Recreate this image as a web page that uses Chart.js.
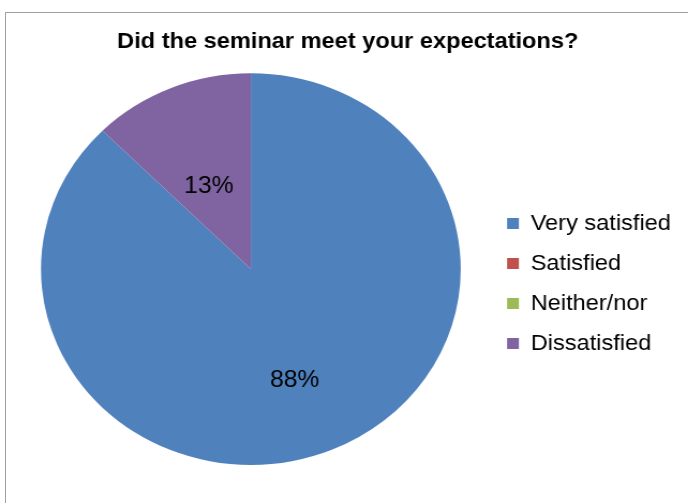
<!DOCTYPE html>
<html>
<head>
<meta charset="utf-8">
<script src="https://cdn.jsdelivr.net/npm/chart.js@4"></script>
<style>
  html, body { margin: 0; padding: 0; background: #fff; overflow: hidden; }
  #frame { position: absolute; left: 5px; top: 12px; width: 800px; height: 600px; border-left: 1px solid #a0a0a0; border-top: 1px solid #a0a0a0; }
  #pieChart { position: absolute; left: 0; top: 0; transform: scaleX(1.0717); transform-origin: 0 0; }
</style>
</head>
<body>
<div id="frame"></div>
<canvas id="pieChart" width="642" height="503"></canvas>
<script>
const chartTitle = 'Did the seminar meet your expectations?';
const answers = ['Very satisfied', 'Satisfied', 'Neither/nor', 'Dissatisfied'];
const responses = [7, 0, 0, 1];
const sliceColors = ['#4F81BD', '#C0504D', '#9BBB59', '#8064A2'];

// percentage labels inside the slices
const percentLabels = {
  id: 'percentLabels',
  afterDatasetsDraw(chart) {
    const ctx = chart.ctx;
    const values = chart.data.datasets[0].data;
    const total = values.reduce((a, b) => a + b, 0);
    chart.getDatasetMeta(0).data.forEach((arc, i) => {
      if (!values[i]) return;
      const share = values[i] / total;
      const mid = (arc.startAngle + arc.endAngle) / 2;
      const r = arc.outerRadius * (share > 0.5 ? 0.6 : 0.47);
      ctx.save();
      ctx.font = '23px "Liberation Sans", Arial, sans-serif';
      ctx.fillStyle = '#000';
      ctx.textAlign = 'center';
      ctx.textBaseline = 'middle';
      ctx.fillText(Math.round(share * 100) + '%', arc.x + Math.cos(mid) * r - 4, arc.y + Math.sin(mid) * r + 3);
      ctx.restore();
    });
  }
};

new Chart(document.getElementById('pieChart').getContext('2d'), {
  type: 'pie',
  data: {
    labels: answers,
    datasets: [{
      data: responses,
      backgroundColor: sliceColors,
      borderWidth: 0
    }]
  },
  options: {
    responsive: false,
    animation: false,
    events: [],
    layout: { padding: { left: 13, right: 6, top: 0, bottom: 38 } },
    plugins: {
      title: {
        display: true,
        text: chartTitle,
        color: '#000',
        font: { family: '"Liberation Sans", Arial, sans-serif', size: 22, weight: 'bold' },
        padding: { top: 28.8, bottom: 18.1 }
      },
      legend: {
        position: 'right',
        title: { display: true, text: '', font: { size: 20, lineHeight: 1.3 }, padding: { top: 76, bottom: 0 } },
        labels: {
          color: '#000',
          font: { family: '"Liberation Sans", Arial, sans-serif', size: 22 },
          boxWidth: 11,
          boxHeight: 11,
          padding: 18
        }
      },
      tooltip: { enabled: false }
    }
  },
  plugins: [percentLabels]
});
</script>
</body>
</html>
